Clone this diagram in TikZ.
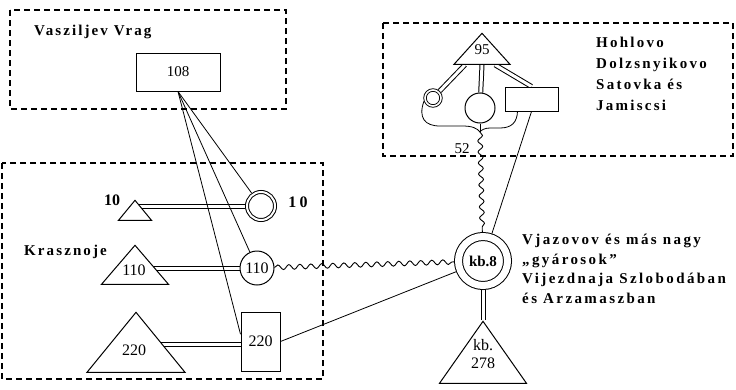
\documentclass[tikz,border=0pt]{standalone}
\usepackage{fontspec}
\setmainfont{Liberation Serif}
\usetikzlibrary{shapes.geometric,decorations.pathmorphing,backgrounds}

\begin{document}
\begin{tikzpicture}[x=1pt, y=-1pt,
    zone/.style={draw, dash pattern=on 6pt off 4pt, line width=1.1pt},
    box/.style={draw, line width=1pt, inner sep=0pt, fill=white},
    tri/.style={draw, line width=1pt, isosceles triangle, shape border rotate=90, isosceles triangle stretches, inner sep=0pt, fill=white, anchor=apex},
    plant/.style={draw, circle, line width=1pt, inner sep=0pt, fill=white},
    ring/.style={plant, double, double distance=2pt, outer sep=2pt},
    pipe/.style={double, double distance=3pt, line width=1pt},
    wire/.style={line width=0.8pt},
    wave/.style={line width=0.9pt, decorate, decoration={snake, amplitude=2.4pt, segment length=11pt}},
    place/.style={font=\fontsize{15}{20}\selectfont\bfseries\addfontfeature{LetterSpace=14}, align=left, inner sep=0pt},
    num/.style={font=\fontsize{16}{18}\selectfont, inner sep=0pt}
  ]
    \useasboundingbox (0,0) rectangle (736,389);
    \draw[zone] (10,10) rectangle (286,109);
    \draw[zone] (2,163) rectangle (323,379);
    \draw[zone] (383,23) rectangle (733,156);
    \node[place, anchor=west] (vrag) at (34,32) {Vasziljev Vrag};
    \node[place, anchor=west] (kraszn) at (24,252) {Krasznoje};
    \node[place, anchor=north west, font=\fontsize{15}{21}\selectfont\bfseries\addfontfeature{LetterSpace=15}] (hohl) at (596,37) {Hohlovo\\Dolzsnyikovo\\Satovka és\\Jamiscsi};
    \node[place, anchor=north west, font=\fontsize{15}{19.5}\selectfont\bfseries\addfontfeature{LetterSpace=16}] (vjaz) at (522,234) {Vjazovov és más nagy\\„gyárosok”\\Vijezdnaja Szlobodában\\és Arzamaszban};
    \node[box, minimum width=84pt, minimum height=38pt, font=\fontsize{15}{18}\selectfont] (b108) at (178,72) {108};
    \node[tri, minimum width=33pt, minimum height=20pt] (t10) at (135,199) {};
    \node[num, font=\fontsize{16}{18}\selectfont\bfseries] (l10a) at (112,200) {10};
    \node[ring, minimum size=28pt] (r10) at (261,206) {};
    \node[num, font=\fontsize{16}{18}\selectfont\bfseries\addfontfeature{LetterSpace=20}] (l10b) at (298,202) {10};
    \node[tri, minimum width=67pt, minimum height=39pt] (t110) at (135,244) {};
    \node[num] (l110) at (134,270) {110};
    \node[plant, minimum size=34pt, font=\fontsize{16}{18}\selectfont] (c110) at (257,268) {110};
    \node[tri, minimum width=98pt, minimum height=60pt] (t220) at (136,311) {};
    \node[num] (l220) at (134,350) {220};
    \node[box, minimum width=39pt, minimum height=59pt, font=\fontsize{16}{18}\selectfont] (b220) at (260.5,341.5) {220};
    \node[plant, double, double distance=7pt, outer sep=4.5pt, minimum size=49pt, font=\fontsize{15}{18}\selectfont\bfseries] (kb8) at (483,261) {kb.8};
    \node[tri, minimum width=87pt, minimum height=62pt] (t278) at (483,320) {};
    \node[num, align=center, font=\fontsize{16}{18}\selectfont] (l278) at (483,354) {kb.\\278};
    \node[tri, minimum width=56pt, minimum height=31pt] (t95) at (482,32) {};
    \node[num, font=\fontsize{15}{18}\selectfont] (l95) at (482,50) {95};
    \node[plant, double, double distance=1.6pt, line width=0.9pt, outer sep=1.7pt, minimum size=16pt] (r95) at (433,98) {};
    \node[plant, minimum size=30pt] (c95) at (480,108) {};
    \node[box, minimum width=53pt, minimum height=24pt] (b95) at (531.5,99) {};
    \coordinate (tip) at (480,132);
    \node[num, font=\fontsize{15}{18}\selectfont] (l52) at (462,149) {52};
    \begin{scope}[on background layer]
      \draw[pipe] (t10.apex |- r10) -- (r10);
      \draw[pipe] (t110.apex |- c110) -- (c110);
      \draw[pipe] (t220.apex |- b220.188) -- (b220.188);
      \draw[pipe] (kb8) -- (t278.apex);
      \draw[pipe] ([xshift=-17pt]t95.lower side) -- (r95);
      \draw[pipe] (t95.lower side) -- (c95);
      \draw[pipe] ([xshift=13pt]t95.lower side) -- (b95.north);
    \end{scope}
    \draw[wire] (b108.south) -- (r10);
    \draw[wire] (b108.south) -- (c110);
    \draw[wire] (b108.south) -- (b220.160);
    \draw[wire] (b220.east) -- (kb8);
    \draw[wire] (b95.south) -- (kb8);
    \draw[wire] (r95.200) .. controls (418,118) and (425,126) .. (440,126) -- (462,126) .. controls (472,126) and (477,128) .. (tip);
    \draw[wire] ([xshift=-14pt]b95.south) .. controls (517,122) and (512,128) .. (500,128) -- (490,128) .. controls (485,128) and (481,130) .. (tip);
    \draw[wire] (c95.south) -- (tip);
    \draw[wave] (c110) -- (kb8);
    \draw[wave] (tip) -- (kb8);
  \end{tikzpicture}
\end{document}
